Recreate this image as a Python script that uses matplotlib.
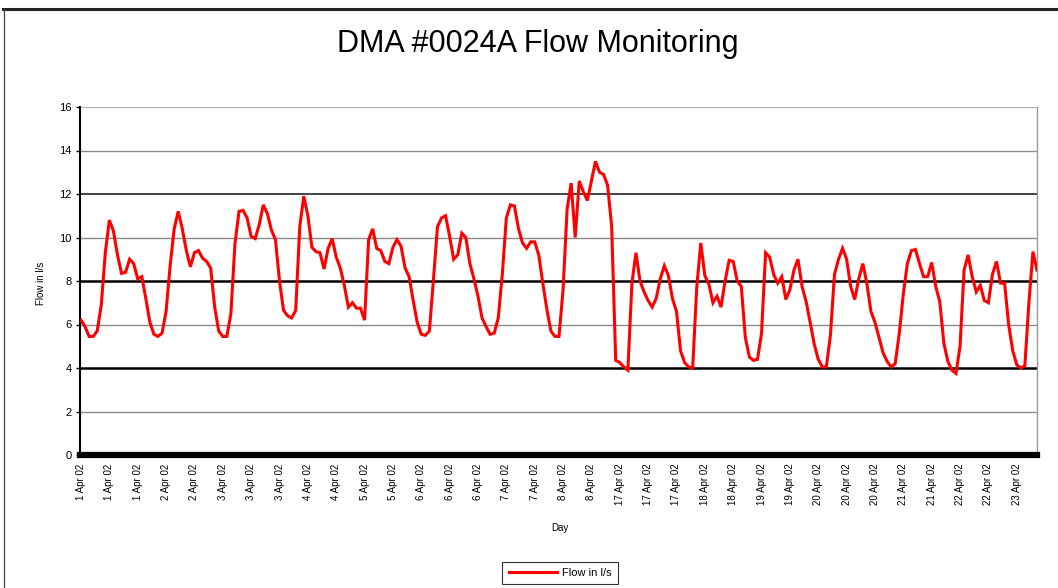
import matplotlib
matplotlib.use("Agg")
import matplotlib.pyplot as plt
from matplotlib.lines import Line2D

plt.rcParams["font.family"] = ["Liberation Sans", "DejaVu Sans"]

# ---------------- data ----------------
title = "DMA #0024A Flow Monitoring"
x_label = "Day"
y_label = "Flow in l/s"
series_name = "Flow in l/s"

# flow readings, 1-8 Apr 02 (l/s)
flow_apr_1_8 = [
    6.2, 5.9, 5.45, 5.45, 5.7, 6.9, 9.3, 10.8, 10.3, 9.2,
    8.35, 8.4, 9.0, 8.8, 8.1, 8.2, 7.2, 6.1, 5.55, 5.45,
    5.6, 6.6, 8.7, 10.4, 11.2, 10.4, 9.4, 8.65, 9.3, 9.4,
    9.05, 8.9, 8.6, 6.8, 5.7, 5.45, 5.45, 6.5, 9.7, 11.2,
    11.25, 10.9, 10.05, 9.95, 10.6, 11.5, 11.1, 10.35, 9.9, 8.0,
    6.65, 6.4, 6.3, 6.65, 10.5, 11.9, 11.0, 9.55, 9.35, 9.3,
    8.55, 9.5, 9.95, 9.1, 8.6, 7.8, 6.8, 7.0, 6.75, 6.75,
    6.2, 9.9, 10.4, 9.5, 9.4, 8.9, 8.8, 9.55, 9.9, 9.6,
    8.6, 8.2, 7.1, 6.1, 5.55, 5.5, 5.7, 8.05, 10.5, 10.9,
    11.0, 10.05, 9.0, 9.2, 10.2, 10.0, 8.8, 8.1, 7.3, 6.3,
    5.9, 5.55, 5.6, 6.3, 8.3, 10.9, 11.5, 11.45, 10.4, 9.75,
    9.5, 9.8, 9.8, 9.2, 7.9, 6.7, 5.7, 5.45, 5.45, 7.6,
    11.3, 12.5, 10.0, 12.6, 12.1, 11.7, 12.6, 13.5, 13.0, 12.9,
    12.4, 10.5,
]

# flow readings, 17-23 Apr 02 (l/s)
flow_apr_17_23 = [
    4.35, 4.25, 4.05, 3.9, 7.9, 9.3, 8.0, 7.5, 7.1, 6.8,
    7.2, 8.1, 8.7, 8.25, 7.2, 6.6, 4.8, 4.25, 4.05, 4.0,
    7.7, 9.75, 8.25, 7.85, 7.0, 7.3, 6.8, 8.0, 8.95, 8.9,
    8.0, 7.75, 5.4, 4.5, 4.35, 4.4, 5.6, 9.3, 9.1, 8.3,
    7.9, 8.2, 7.15, 7.6, 8.5, 9.0, 7.75, 7.05, 6.1, 5.1,
    4.4, 4.05, 4.05, 5.5, 8.3, 9.0, 9.5, 9.0, 7.75, 7.15,
    8.1, 8.8, 7.9, 6.6, 6.1, 5.4, 4.7, 4.3, 4.05, 4.2,
    5.6, 7.4, 8.8, 9.4, 9.45, 8.8, 8.2, 8.2, 8.85, 7.75,
    7.05, 5.15, 4.3, 3.9, 3.75, 5.0, 8.5, 9.2, 8.2, 7.5,
    7.8, 7.1, 7.0, 8.3, 8.9, 7.9, 7.9, 6.0, 4.8, 4.15,
    4.0, 4.1, 7.0, 9.35, 8.5,
]

tick_labels = [
    "1 Apr 02", "1 Apr 02", "1 Apr 02", "2 Apr 02", "2 Apr 02",
    "3 Apr 02", "3 Apr 02", "3 Apr 02", "4 Apr 02", "4 Apr 02",
    "5 Apr 02", "5 Apr 02", "6 Apr 02", "6 Apr 02", "6 Apr 02",
    "7 Apr 02", "7 Apr 02", "8 Apr 02", "8 Apr 02",
    "17 Apr 02", "17 Apr 02", "17 Apr 02", "18 Apr 02", "18 Apr 02",
    "19 Apr 02", "19 Apr 02", "20 Apr 02", "20 Apr 02", "20 Apr 02",
    "21 Apr 02", "21 Apr 02", "22 Apr 02", "22 Apr 02", "23 Apr 02",
]
y_ticks = [0, 2, 4, 6, 8, 10, 12, 14, 16]

# ---------------- figure ----------------
W, H = 1058, 588
fig = plt.figure(figsize=(W / 100, H / 100), dpi=100)
fig.patch.set_facecolor("white")

left, right, top, bottom = 80, 1037, 107, 455
ax = fig.add_axes([left / W, 1 - bottom / H, (right - left) / W, (bottom - top) / H])

flow = flow_apr_1_8 + flow_apr_17_23
xs = list(range(len(flow)))
label_step = 7

# gridlines (rendered with differing weights as in the scanned original)
grid_style = {
    2: ("#8a8a8a", 1.0), 4: ("#000000", 1.8), 6: ("#8a8a8a", 1.0),
    8: ("#000000", 1.8), 10: ("#8a8a8a", 1.0), 12: ("#111111", 1.1),
    14: ("#8a8a8a", 1.0), 16: ("#b0b0b0", 0.8),
}
for yv in y_ticks[1:]:
    c, lw = grid_style[yv]
    ax.axhline(yv, color=c, lw=lw, zorder=1)

ax.plot(xs, flow, color="#ff0000", lw=2.2, label=series_name, zorder=3,
        solid_joinstyle="miter")

ax.set_xlim(-0.25, len(flow) - 1)
ax.set_ylim(0, 16)
ax.set_xticks([i * label_step for i in range(len(tick_labels))])
ax.set_xticklabels(tick_labels, rotation=90, fontsize=7, va="top", ha="center")
ax.tick_params(axis="x", length=0, pad=6)
ax.set_yticks(y_ticks)
ax.set_yticklabels([str(v) for v in y_ticks], fontsize=8)
ax.tick_params(axis="y", length=3, width=1, direction="out", pad=3)

ax.spines["left"].set_color("black")
ax.spines["left"].set_linewidth(1.5)
ax.spines["bottom"].set_color("black")
ax.spines["bottom"].set_linewidth(4.5)
ax.spines["right"].set_color("#9a9a9a")
ax.spines["right"].set_linewidth(1.0)
ax.spines["top"].set_visible(False)

fig.text(538 / W, 1 - 44 / H, title, fontsize=22, ha="center", va="center")
fig.text(560 / W, 1 - 528 / H, x_label, fontsize=7, ha="center", va="center")
fig.text(41 / W, 1 - 283 / H, y_label, fontsize=7, ha="center", va="center",
         rotation=90)

leg = ax.legend(loc="center", bbox_to_anchor=(560 / W, 1 - 573 / H),
                bbox_transform=fig.transFigure, fontsize=8, frameon=True,
                fancybox=False, handlelength=4.4, borderpad=0.55,
                handletextpad=0.4)
leg.get_frame().set_edgecolor("black")
leg.get_frame().set_linewidth(0.8)

# outer chart border
fig.add_artist(Line2D([3 / W, 1.0], [1 - 8.5 / H, 1 - 8.5 / H],
                      transform=fig.transFigure, color="#222222", lw=2.2))
fig.add_artist(Line2D([3.5 / W, 3.5 / W], [0, 1 - 8.5 / H],
                      transform=fig.transFigure, color="#444444", lw=0.9))

fig.savefig("out.png", dpi=100)
